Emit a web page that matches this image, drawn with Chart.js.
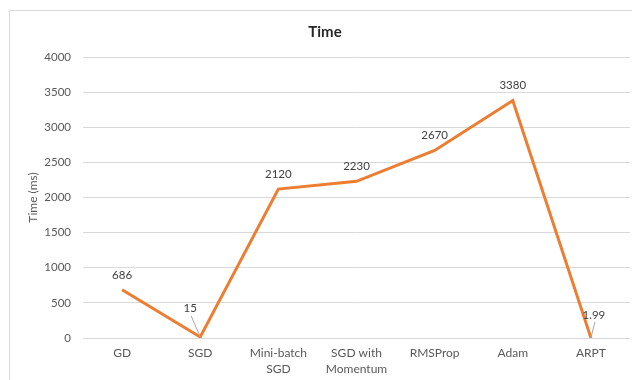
<!DOCTYPE html>
<html>
<head>
<meta charset="utf-8">
<script src="https://cdn.jsdelivr.net/npm/chart.js@4/dist/chart.umd.min.js"></script>
<style>
  html, body { margin: 0; padding: 0; background: #fff; }
  #wrap { position: relative; width: 632px; height: 380px; }
</style>
</head>
<body>
<div id="wrap"><canvas id="chart"></canvas></div>
<script>
// Chart data
const categories = ['GD', 'SGD', ['Mini-batch', 'SGD'], ['SGD with', 'Momentum'], 'RMSProp', 'Adam', 'ARPT'];
const timeMs = [686, 15, 2120, 2230, 2670, 3380, 1.99];
const timeLabels = ['686', '15', '2120', '2230', '2670', '3380', '1.99'];
const yTicks = [0, 500, 1000, 1500, 2000, 2500, 3000, 3500, 4000];

const FONT = 'Lato, "Open Sans", sans-serif';
const LINE_COLOR = '#ED7D31';

// Outer frame of the chart (only top and left edges show in the picture)
const framePlugin = {
    id: 'frame',
    beforeDraw(chart) {
        const ctx = chart.ctx;
        ctx.save();
        ctx.fillStyle = '#fff';
        ctx.fillRect(0, 0, chart.width, chart.height);
        ctx.strokeStyle = '#d9d9d9';
        ctx.lineWidth = 1;
        ctx.beginPath();
        ctx.moveTo(9.5, chart.height);
        ctx.lineTo(9.5, 10.5);
        ctx.lineTo(chart.width, 10.5);
        ctx.stroke();
        ctx.restore();
    }
};

// Value labels above the points, a couple moved aside with leader lines
const valueLabelPlugin = {
    id: 'valueLabels',
    afterDatasetsDraw(chart, args, opts) {
        const ctx = chart.ctx;
        const meta = chart.getDatasetMeta(0);
        ctx.save();
        ctx.font = '11.5px ' + FONT;
        ctx.fillStyle = '#404040';
        ctx.textAlign = 'center';
        ctx.textBaseline = 'middle';
        meta.data.forEach((pt, i) => {
            const nudge = opts.nudge[i] || { dx: 0, dy: -15 };
            const lx = pt.x + nudge.dx;
            const ly = pt.y + nudge.dy;
            if (nudge.leader) {
                ctx.strokeStyle = '#a6a6a6';
                ctx.lineWidth = 1;
                ctx.beginPath();
                ctx.moveTo(lx + nudge.leader[0], ly + nudge.leader[1]);
                ctx.lineTo(pt.x, pt.y);
                ctx.stroke();
            }
            ctx.fillText(timeLabels[i], lx, ly);
        });
        ctx.restore();
    }
};

new Chart(document.getElementById('chart'), {
    type: 'line',
    data: {
        labels: categories,
        datasets: [{
            data: timeMs,
            borderColor: LINE_COLOR,
            borderWidth: 3,
            pointRadius: 0,
            fill: false,
            tension: 0
        }]
    },
    options: {
        responsive: true,
        maintainAspectRatio: false,
        animation: false,
        layout: { padding: { left: 20, right: 2, top: 0, bottom: 0 } },
        plugins: {
            legend: { display: false },
            tooltip: { enabled: false },
            title: {
                display: true,
                text: 'Time',
                color: '#262626',
                font: { family: FONT, size: 15, weight: 'bold' },
                padding: { top: 23, bottom: 16 }
            },
            valueLabels: {
                nudge: {
                    1: { dx: -10, dy: -29, leader: [1, 8] },
                    6: { dx: 3, dy: -23, leader: [1, 7] }
                }
            }
        },
        scales: {
            x: {
                offset: true,
                grid: { display: false, drawTicks: false },
                border: { display: false },
                ticks: {
                    color: '#595959',
                    font: { family: FONT, size: 12, lineHeight: 1.35 },
                    padding: 7,
                    maxRotation: 0,
                    autoSkip: false
                },
                afterFit(scale) { scale.height = 42; }
            },
            y: {
                min: 0,
                max: 4000,
                afterBuildTicks(scale) { scale.ticks = yTicks.map(v => ({ value: v })); },
                grid: { color: '#d9d9d9', drawTicks: false },
                border: { display: false },
                ticks: {
                    color: '#595959',
                    font: { family: FONT, size: 11.5 },
                    padding: 12,
                    callback: (v) => String(v)
                },
                title: {
                    display: true,
                    text: 'Time (ms)',
                    color: '#595959',
                    font: { family: FONT, size: 12 },
                    padding: { top: 6, bottom: 0 }
                },
                afterFit(scale) { scale.width = 63; }
            }
        }
    },
    plugins: [framePlugin, valueLabelPlugin]
});
</script>
</body>
</html>
